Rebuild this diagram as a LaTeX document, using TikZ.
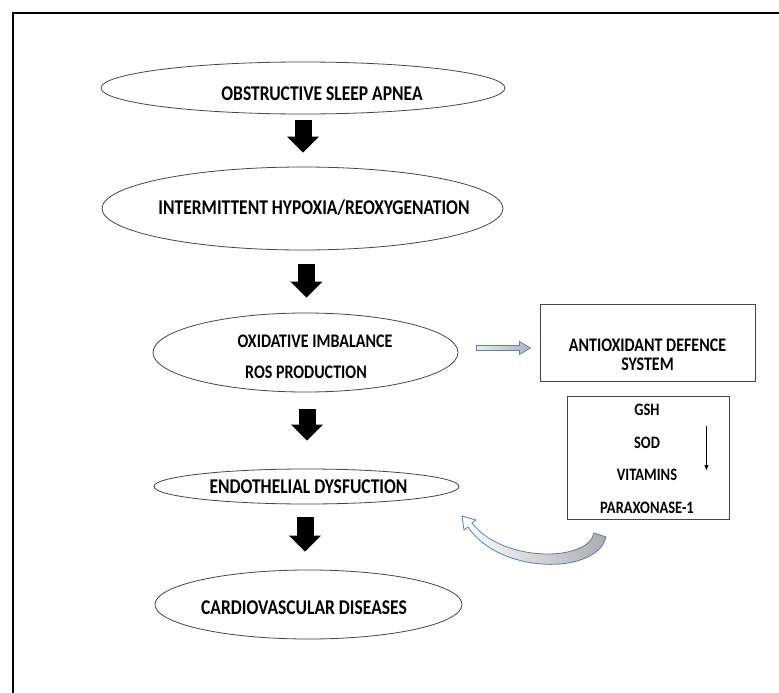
\documentclass[tikz,border=0pt]{standalone}
\usepackage{fontspec}
\setmainfont{Carlito}
\usetikzlibrary{shapes.geometric, arrows.meta, calc}
\definecolor{edgegray}{RGB}{70,70,70}
\definecolor{officeblue}{RGB}{84,130,186}
\newcommand{\tallt}[1]{\scalebox{1}[1.2]{#1}}

\begin{document}
\begin{tikzpicture}[x=1pt, y=-1pt,
    ell/.style={ellipse, draw=edgegray, line width=0.8pt, inner sep=0pt},
    boxr/.style={rectangle, draw=edgegray, line width=0.9pt, inner sep=0pt},
    lbl/.style={inner sep=0pt, anchor=base, font=\bfseries\fontsize{17.5}{20}\selectfont},
    downarr/.style={line width=17pt, -{Triangle[width=31pt, length=16pt]}}]
    \path[fill=white] (0,0) rectangle (779,693);
    \useasboundingbox (0,0) rectangle (779,693);
    \draw[line width=2pt] (13,693) -- (13,13) -- (779,13);

    % main chain
    \node[ell, minimum width=404pt, minimum height=52pt] (osa) at (303,88) {};
    \node[ell, minimum width=401pt, minimum height=83pt] (ihr) at (302.5,208.5) {};
    \node[ell, minimum width=305pt, minimum height=79pt] (oxi) at (305.5,352.5) {};
    \node[ell, minimum width=305pt, minimum height=35pt] (endo) at (306.5,486.5) {};
    \node[ell, minimum width=307pt, minimum height=69pt] (cvd) at (308.5,604.5) {};

    \node[lbl] (osalbl) at (322,100) {\tallt{OBSTRUCTIVE SLEEP APNEA}};
    \node[lbl] (ihrlbl) at (314,214) {\tallt{INTERMITTENT HYPOXIA/REOXYGENATION}};
    \node[lbl, font=\bfseries\fontsize{16}{19}\selectfont] (oxilbla) at (315,347) {\tallt{OXIDATIVE IMBALANCE}};
    \node[lbl, font=\bfseries\fontsize{16}{19}\selectfont] (oxilblb) at (306,378) {\tallt{ROS PRODUCTION}};
    \node[lbl] (endolbl) at (308.5,493) {\tallt{ENDOTHELIAL DYSFUCTION}};
    \node[lbl] (cvdlbl) at (304,614) {\tallt{CARDIOVASCULAR DISEASES}};

    \coordinate (a1) at (osa.south);
    \coordinate (a2) at ($(ihr.south)+(4,0)$);
    \coordinate (a3) at ($(oxi.south)+(1.5,0)$);
    \coordinate (a4) at ($(endo.south)+(-1.5,0)$);
    \draw[downarr, shorten <=6pt, shorten >=14pt] (a1) -- (a1 |- ihr.north);
    \draw[downarr, shorten <=14pt, shorten >=15pt] (a2) -- (a2 |- oxi.north);
    \draw[downarr, shorten <=17pt, shorten >=28pt] (a3) -- (a3 |- endo.north);
    \draw[downarr, shorten <=13pt, shorten >=18pt] (a4) -- (a4 |- cvd.north);

    % defence side
    \node[boxr, minimum width=215pt, minimum height=77pt] (ads) at (647.5,342.5) {};
    \node[lbl, font=\bfseries\fontsize{16}{17}\selectfont] (adslbla) at (647.5,351.5) {\tallt{ANTIOXIDANT DEFENCE}};
    \node[lbl, font=\bfseries\fontsize{16}{17}\selectfont] (adslblb) at (647.5,370.3) {\tallt{SYSTEM}};

    \node[boxr, minimum width=162pt, minimum height=123pt] (enz) at (648,457.5) {};
    \node[lbl, font=\bfseries\fontsize{14.5}{17}\selectfont] (gsh) at (647,415) {\tallt{GSH}};
    \node[lbl, font=\bfseries\fontsize{14.5}{17}\selectfont] (sod) at (647,448) {\tallt{SOD}};
    \node[lbl, font=\bfseries\fontsize{14.5}{17}\selectfont] (vit) at (647,480) {\tallt{VITAMINS}};
    \node[lbl, font=\bfseries\fontsize{14.5}{17}\selectfont] (pon) at (647,513) {\tallt{PARAXONASE-1}};

    \coordinate (dtop) at ($(enz.east)+(-23,-31.5)$);
    \coordinate (dbot) at ($(enz.east)+(-23,12.5)$);
    \draw[line width=0.6pt, -{Triangle[width=4pt, length=5pt]}] (dtop) -- (dbot);

    \coordinate (bas) at ($(oxi.east)+(18,-4.5)$);
    \draw[draw=officeblue, line width=0.8pt, left color=gray!15, right color=gray!60]
        (bas) ++(0,-2.5) -- ++(43,0) -- ++(0,-4) -- ++(11,6.5) -- ++(-11,6.5) -- ++(0,-4) -- ++(-43,0) -- cycle;

    % curved feedback arrow
    \draw[draw=officeblue, line width=0.8pt, left color=white, right color=gray!65]
        (606,537) .. controls (597,575) and (500,575) .. (468,527) -- (464,530) -- (462,516)
        -- (476,520) -- (472,523) .. controls (503,563) and (588,562) .. (594,533) -- cycle;
\end{tikzpicture}
\end{document}
